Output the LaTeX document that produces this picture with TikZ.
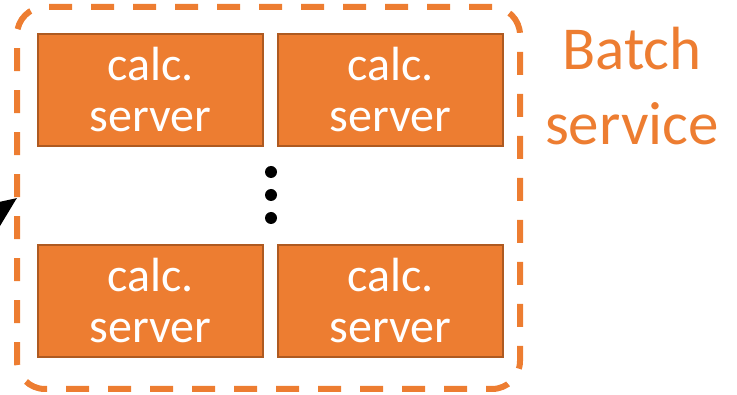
\documentclass[tikz,border=0pt]{standalone}
\usepackage{fontspec}
\setmainfont{Carlito}
\usetikzlibrary{arrows.meta}
\definecolor{accent}{HTML}{ED7D31}
\definecolor{accentdark}{HTML}{AE5A21}

\begin{document}
\begin{tikzpicture}[x=1pt,y=-1pt,
  server/.style={draw=accentdark, line width=2.5pt, fill=accent, text=white,
    minimum width=225pt, minimum height=112pt, inner sep=0pt, align=center,
    font=\fontsize{48}{51}\selectfont},
  group/.style={draw=accent, line width=6pt, dash pattern=on 23pt off 19pt,
    rounded corners=28pt, minimum width=503pt, minimum height=382pt,
    outer sep=0pt},
  dot/.style={circle, fill=black, minimum size=12pt, inner sep=0pt},
  caption/.style={text=accent, align=center, font=\fontsize{61}{75}\selectfont},
  feed/.style={-{Triangle[length=34pt,width=28pt]}, line width=4pt, black},
]
\useasboundingbox (0,0) rectangle (737,395);
\clip (0,0) rectangle (737,395);

% batch group outline
\node[group] (batch) at (268.5,198) {};

% calculation servers
\node[server] (s11) at (150.5,90)  {calc.\\server};
\node[server] (s12) at (390.5,90)  {calc.\\server};
\node[server] (s21) at (150.5,301) {calc.\\server};
\node[server] (s22) at (390.5,301) {calc.\\server};

% vertical ellipsis
\node[dot] (d1) at (271,172) {};
\node[dot] (d2) at (271,195) {};
\node[dot] (d3) at (271,218) {};

% group caption
\node[caption] (label) at (632,86) {Batch\\service};

% incoming request arrow
\coordinate (src) at (-64,256);
\draw[feed] (src) -- (batch.west);
\end{tikzpicture}
\end{document}
